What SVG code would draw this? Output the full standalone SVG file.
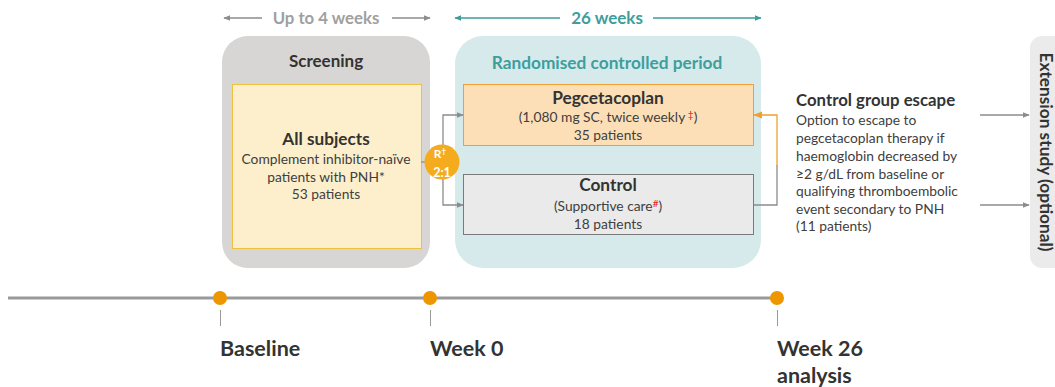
<svg xmlns="http://www.w3.org/2000/svg" width="1055" height="387" viewBox="0 0 1055 387">
  <defs>
    <style>
      text { font-family: Lato, "Open Sans", "Liberation Sans", sans-serif; }
      .b { font-weight: bold; }
      .dark { fill: #333333; }
      .body { fill: #404040; font-size: 13.8px; }
      .mid { text-anchor: middle; }
      .gline { stroke: #8c8c8c; stroke-width: 1.3; fill: none; }
      .tline { stroke: #3e9e9c; stroke-width: 1.3; fill: none; }
      .oline { stroke: #f0a030; stroke-width: 1.3; fill: none; }
      .tick { stroke: #999999; stroke-width: 1; }
      .dot { fill: #ee9600; }
      .red { fill: #e0201c; }
    </style>
    <marker id="ag" viewBox="0 0 10 10" refX="9" refY="5" markerWidth="7" markerHeight="7" orient="auto-start-reverse" markerUnits="userSpaceOnUse">
      <path d="M0,1 L10,5 L0,9 z" fill="#8c8c8c"/>
    </marker>
    <marker id="at" viewBox="0 0 10 10" refX="9" refY="5" markerWidth="7" markerHeight="7" orient="auto-start-reverse" markerUnits="userSpaceOnUse">
      <path d="M0,1 L10,5 L0,9 z" fill="#3e9e9c"/>
    </marker>
    <marker id="ao" viewBox="0 0 10 10" refX="9" refY="5" markerWidth="9" markerHeight="9" orient="auto-start-reverse" markerUnits="userSpaceOnUse">
      <path d="M0,1 L10,5 L0,9 z" fill="#f0a030"/>
    </marker>
  </defs>

  <rect width="1055" height="387" fill="#ffffff"/>

  <!-- duration headers -->
  <g id="duration-screening">
    <line class="gline" x1="262" y1="18" x2="224" y2="18" marker-end="url(#ag)"/>
    <line class="gline" x1="392" y1="18" x2="430" y2="18" marker-end="url(#ag)"/>
    <text x="326" y="24" class="b mid" font-size="16.8" fill="#a0a0a0">Up to 4 weeks</text>
  </g>
  <g id="duration-randomised">
    <line class="tline" x1="560" y1="18" x2="455" y2="18" marker-end="url(#at)"/>
    <line class="tline" x1="653" y1="18" x2="761" y2="18" marker-end="url(#at)"/>
    <text x="607" y="24" class="b mid" font-size="17" fill="#3e9e9c">26 weeks</text>
  </g>

  <!-- screening phase -->
  <g id="screening">
    <rect x="222" y="36" width="208" height="232" rx="26" fill="#d8d6d4"/>
    <text x="326" y="67" class="b mid dark" font-size="17">Screening</text>
  </g>
  <g id="all-subjects">
    <rect x="232.5" y="84.5" width="189" height="164" fill="#fdefcc" stroke="#f0c040" stroke-width="1"/>
    <text x="326" y="145" class="b mid dark" font-size="17.2">All subjects</text>
    <text x="326" y="164" class="body mid">Complement inhibitor-naïve</text>
    <text x="326" y="182" class="body mid">patients with PNH*</text>
    <text x="326" y="199" class="body mid">53 patients</text>
  </g>

  <!-- randomised controlled period -->
  <g id="randomised-period">
    <rect x="455" y="36" width="306" height="232" rx="28" fill="#d6eaec"/>
    <text x="607" y="69" class="b mid" font-size="17.3" fill="#3e9e9c">Randomised controlled period</text>
  </g>
  <g id="pegcetacoplan">
    <rect x="463.5" y="84.5" width="290" height="61" fill="#fcdfb6" stroke="#f0a030" stroke-width="1"/>
    <text x="608" y="104" class="b mid dark" font-size="17.3">Pegcetacoplan</text>
    <text x="608" y="122" class="body mid">(1,080 mg SC, twice weekly<tspan class="red" font-size="10" dy="-4"> ‡</tspan><tspan dy="4">)</tspan></text>
    <text x="608" y="140" class="body mid">35 patients</text>
  </g>
  <g id="control">
    <rect x="463.5" y="174.5" width="290" height="60" fill="#eaeaea" stroke="#7a7a7a" stroke-width="1"/>
    <text x="608" y="191" class="b mid dark" font-size="17.3">Control</text>
    <text x="608" y="211" class="body mid">(Supportive care<tspan class="red" font-size="10" dy="-4">#</tspan><tspan dy="4">)</tspan></text>
    <text x="608" y="229" class="body mid">18 patients</text>
  </g>

  <!-- connectors -->
  <g id="connectors">
    <line class="gline" x1="421" y1="162" x2="430" y2="162"/>
    <polyline class="gline" points="443,162 443,115 463,115" marker-end="url(#ag)"/>
    <polyline class="gline" points="443,162 443,205 463,205" marker-end="url(#ag)"/>
    <polyline class="gline" points="754,205 777,205 777,165"/>
    <polyline class="oline" points="777,166 777,115 754,115" marker-end="url(#ao)"/>
    <line class="gline" x1="980" y1="115" x2="1029" y2="115" marker-end="url(#ag)"/>
    <line class="gline" x1="980" y1="205" x2="1029" y2="205" marker-end="url(#ag)"/>
  </g>

  <!-- randomisation node -->
  <g id="randomisation">
    <circle cx="442" cy="162" r="17.5" fill="#f5ab1e"/>
    <text x="440" y="158" class="b mid" font-size="12" fill="#ffffff">R<tspan font-size="8" dy="-4">†</tspan></text>
    <text x="442" y="177" class="b mid" font-size="12.5" fill="#ffffff">2:1</text>
  </g>

  <!-- escape description -->
  <g id="control-escape">
    <text x="796" y="106" class="b dark" font-size="16.8">Control group escape</text>
    <text class="body" font-size="13.2">
      <tspan x="796" y="125">Option to escape to</tspan>
      <tspan x="796" y="143">pegcetacoplan therapy if</tspan>
      <tspan x="796" y="161">haemoglobin decreased by</tspan>
      <tspan x="796" y="179">≥2 g/dL from baseline or</tspan>
      <tspan x="796" y="196">qualifying thromboembolic</tspan>
      <tspan x="796" y="214">event secondary to PNH</tspan>
      <tspan x="796" y="231">(11 patients)</tspan>
    </text>
  </g>

  <!-- extension study -->
  <g id="extension-study">
    <rect x="1030" y="36" width="50" height="232" rx="12" fill="#ebebeb"/>
    <text transform="translate(1040 152) rotate(90)" class="b mid dark" font-size="17.3">Extension study (optional)</text>
  </g>

  <!-- timeline -->
  <g id="timeline">
    <line x1="8" y1="298" x2="780" y2="298" stroke="#9a9a9a" stroke-width="3"/>
    <line class="tick" x1="220.5" y1="310" x2="220.5" y2="326"/>
    <line class="tick" x1="430.5" y1="310" x2="430.5" y2="326"/>
    <line class="tick" x1="777.5" y1="310" x2="777.5" y2="326"/>
    <circle class="dot" cx="220" cy="298" r="7"/>
    <circle class="dot" cx="430" cy="298" r="7"/>
    <circle class="dot" cx="777" cy="298" r="7"/>
    <text x="220" y="356" class="b dark" font-size="21.5">Baseline</text>
    <text x="430" y="356" class="b dark" font-size="21.5">Week 0</text>
    <text x="777" y="356" class="b dark" font-size="21.5">Week 26</text>
    <text x="777" y="383" class="b dark" font-size="21.5">analysis</text>
  </g>
</svg>
